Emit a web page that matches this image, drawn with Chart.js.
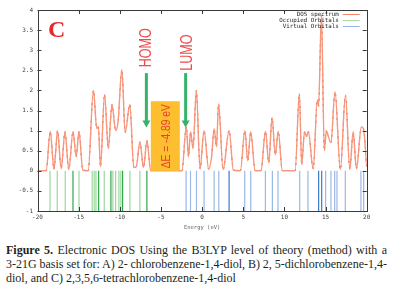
<!DOCTYPE html>
<html><head><meta charset="utf-8">
<script src="https://cdn.jsdelivr.net/npm/chart.js@4"></script>
<style>
html,body{margin:0;padding:0;background:#fff;width:395px;height:296px;overflow:hidden}
#wrap{position:absolute;left:0;top:0;width:395px;height:232px}
#cap{position:absolute;left:6px;top:243px;width:381px;font-family:"Liberation Serif",serif;font-size:12px;line-height:14px;color:#231f20}
#cap div{white-space:nowrap}
#cap .j{text-align:justify;text-align-last:justify;white-space:normal;word-spacing:-1.5px}
</style></head>
<body>
<div id="wrap"><canvas id="c" width="395" height="232"></canvas></div>
<div id="cap">
<div class="j"><b>Figure 5.</b> Electronic DOS Using the B3LYP level of theory (method) with a</div>
<div class="j">3-21G basis set for: A) 2- chlorobenzene-1,4-diol, B) 2, 5-dichlorobenzene-1,4-</div>
<div>diol, and C) 2,3,5,6-tetrachlorobenzene-1,4-diol</div>
</div>
<script>
const xTicks = [-20,-15,-10,-5,0,5,10,15,20];
const yTicks = [4,3.5,3,2.5,2,1.5,1,0.5,0,-0.5,-1];

const dosEnergy = [-20,-18.95,-18.45,-18.0,-17.8,-17.57,-17.12,-16.66,-16.2,-15.68,-15.3,-14.96,-14.5,-13.85,-13.2,-12.8,-12.6,-12.35,-11.85,-11.4,-10.95,-10.5,-10.2,-9.75,-9.35,-8.78,-8.3,-8.0,-7.56,-7.12,-6.7,-6.25,-2.45,-1.92,-1.65,-1.4,-1.1,-0.7,-0.25,0.24,0.8,1.15,1.46,1.75,2.0,2.55,3.28,3.8,4.65,5.2,5.55,5.9,6.45,7.15,7.7,8.1,8.5,8.9,9.25,9.75,11.3,11.82,12.1,12.45,12.7,12.9,13.5,14.0,14.15,14.5,14.85,15.1,15.35,15.65,16.15,16.8,17.42,17.95,18.35,18.75,19.35,19.6,20];
const dosValue  = [0,0,0.98,0.04,0.45,1.0,0.05,0.97,0.03,0.98,0.35,0.98,0.02,0,2.0,1.05,1.1,0.1,1.9,0.55,1.65,1.0,1.25,2.52,0.95,1.65,0.08,0.1,0.72,0.08,0.75,0,0,1.1,0.35,0.97,0.55,2.0,0.05,1.0,0.04,0.35,1.05,0.6,1.66,0.03,1.0,0.02,0,1.0,0.25,0.97,0,0,0.98,0.2,1.32,0.4,0.98,0,0,1.92,0.15,0.97,0.85,0.98,0.05,1.76,1.6,3.87,0.5,1.0,0.85,0.7,1.97,0.03,1.88,0.03,0.97,0.05,1.09,1.05,0.1];

const occupiedEnergy   = [-18.48,-17.60,-16.63,-14.96,-13.35,-13.11,-12.90,-11.89,-10.84,-10.51,-10.11,-9.87,-8.77,-7.56];
const occupiedDegenerate = [-15.69,-12.57,-11.08,-9.66,-6.71];
const virtualEnergy    = [-1.94,-1.41,-0.68,0.24,1.46,2.03,5.18,5.91,7.69,8.54,9.22,11.86,12.86,15.01,15.66,16.11,16.39,17.40,19.30,19.63];
const virtualDegenerate  = [3.28,14.16,14.53];

const homoEnergy = -6.71, lumoEnergy = -1.94;
const gapLabel = 'ΔE = -4.89 eV';

function sticks(arr){
  const out=[];
  arr.forEach(e=>{out.push({x:e,y:0},{x:e,y:-1},{x:e,y:null});});
  return out;
}

const annot = {
  id:'annot',
  afterDatasetsDraw(chart){
    const {ctx, chartArea:a, scales:{x,y}} = chart;
    ctx.save();
    const bx0 = x.getPixelForValue(homoEnergy+0.48), bx1 = x.getPixelForValue(lumoEnergy-0.77);
    const by0 = y.getPixelForValue(1.73), by1 = y.getPixelForValue(0);
    ctx.fillStyle='#fdbf2f';
    ctx.fillRect(bx0,by0,bx1-bx0,by1-by0);
    ctx.save();
    ctx.translate((bx0+bx1)/2+5, y.getPixelForValue(0.86));
    ctx.rotate(-Math.PI/2);
    ctx.scale(0.82,1);
    ctx.fillStyle='#e8432e';
    ctx.font='12.5px "Liberation Sans", Arial, sans-serif';
    ctx.textAlign='center'; ctx.textBaseline='alphabetic';
    ctx.fillText(gapLabel,0,0);
    ctx.restore();
    [[homoEnergy,'HOMO',3.06,5],[lumoEnergy,'LUMO',2.94,6]].forEach(([e,t,ly,dx])=>{
      const px = x.getPixelForValue(e)-0.5;
      const yTop = y.getPixelForValue(2.43), yTip = y.getPixelForValue(1.08);
      ctx.strokeStyle='#36b36b'; ctx.fillStyle='#36b36b'; ctx.lineWidth=3;
      ctx.beginPath(); ctx.moveTo(px,yTop); ctx.lineTo(px,yTip-6); ctx.stroke();
      ctx.beginPath(); ctx.moveTo(px-4,yTip-7); ctx.lineTo(px+4,yTip-7); ctx.lineTo(px,yTip); ctx.closePath(); ctx.fill();
      ctx.save();
      ctx.translate(px+dx, y.getPixelForValue(ly));
      ctx.rotate(-Math.PI/2);
      ctx.scale(0.76,1);
      ctx.fillStyle='#ee4a4d';
      ctx.font='16.5px "Liberation Sans", Arial, sans-serif';
      ctx.textAlign='center'; ctx.textBaseline='alphabetic';
      ctx.fillText(t,0,0);
      ctx.restore();
    });
    ctx.fillStyle='#e8292b';
    ctx.font='bold 24px "Liberation Serif", serif';
    ctx.textAlign='left'; ctx.textBaseline='alphabetic';
    ctx.fillText('C', a.left+10.5, a.top+27);
    ctx.font='5.8px "DejaVu Sans Mono", monospace';
    ctx.textAlign='right'; ctx.textBaseline='middle';
    const items = chart.data.datasets.filter(d=>d.legendOrder!==undefined).sort((p,q)=>p.legendOrder-q.legendOrder);
    items.forEach((d,i)=>{
      const ty = a.top+4.5+i*6;
      ctx.fillStyle='#222';
      ctx.fillText(d.label, a.right-28, ty);
      ctx.strokeStyle=d.legendColor; ctx.lineWidth=1;
      ctx.beginPath(); ctx.moveTo(a.right-24, ty); ctx.lineTo(a.right-7, ty); ctx.stroke();
    });
    ctx.restore();
  },
  afterDraw(chart){
    const {ctx, chartArea:a, scales:{x,y}} = chart;
    ctx.save();
    ctx.strokeStyle='#3a3a3a'; ctx.lineWidth=1;
    ctx.strokeRect(Math.round(a.left)+0.5, Math.round(a.top)+0.5, Math.round(a.right-a.left), Math.round(a.bottom-a.top));
    ctx.beginPath();
    xTicks.forEach(v=>{const p=Math.round(x.getPixelForValue(v))+0.5;
      ctx.moveTo(p,a.bottom); ctx.lineTo(p,a.bottom-4);
      ctx.moveTo(p,a.top); ctx.lineTo(p,a.top+4);});
    yTicks.forEach(v=>{const p=Math.round(y.getPixelForValue(v))+0.5;
      ctx.moveTo(a.left,p); ctx.lineTo(a.left+4,p);
      ctx.moveTo(a.right,p); ctx.lineTo(a.right-4,p);});
    ctx.stroke();
    ctx.restore();
  }
};

const tickFont = {family:'"DejaVu Sans Mono", monospace', size:6};
const dosPoints = dosEnergy.map((e,i)=>({x:e,y:dosValue[i]}));

new Chart(document.getElementById('c'), {
  type:'line',
  data:{
    datasets:[
      {label:'Occupied Orbitals', legendOrder:1, legendColor:'#a6dba6', data:sticks(occupiedEnergy), borderColor:'#9dd79d', borderWidth:1.2, pointRadius:0, spanGaps:false},
      {label:'Occupied (deg)', data:sticks(occupiedDegenerate), borderColor:'#2fa84b', borderWidth:1.2, pointRadius:0, spanGaps:false},
      {label:'Virtual Orbitals', legendOrder:2, legendColor:'#98b3e3', data:sticks(virtualEnergy), borderColor:'#9bb8e6', borderWidth:1.2, pointRadius:0, spanGaps:false},
      {label:'Virtual (deg)', data:sticks(virtualDegenerate), borderColor:'#3b7cc6', borderWidth:1.2, pointRadius:0, spanGaps:false},
      {label:'DOS spectrum', legendOrder:0, legendColor:'#f3866a', data:dosPoints, borderColor:'#f7977c', borderWidth:1.4, pointRadius:0, cubicInterpolationMode:'monotone'},
      {label:'DOS overlay', data:dosPoints, borderWidth:1, pointRadius:0, cubicInterpolationMode:'monotone', borderDash:[2,4],
        segment:{borderColor:c=>Math.abs(c.p1.parsed.y-c.p0.parsed.y)>0.4?'#e8231c':'rgba(0,0,0,0)'}}
    ]
  },
  options:{
    responsive:false, animation:false, devicePixelRatio:1,
    layout:{padding:{left:0,right:28.3,top:10,bottom:0}},
    plugins:{legend:{display:false}, tooltip:{enabled:false}},
    scales:{
      x:{type:'linear', min:-20, max:20,
        afterBuildTicks(s){s.ticks = xTicks.map(v=>({value:v}));},
        afterFit(s){s.height=21;},
        ticks:{font:tickFont, color:'#444', padding:3, maxRotation:0, autoSkip:false, callback:v=>String(v)},
        grid:{display:false, drawTicks:false}, border:{display:false},
        title:{display:true, text:'Energy (eV)', font:{family:'"DejaVu Sans Mono", monospace', size:5.5}, color:'#666', padding:{top:0,bottom:1}}
      },
      y:{type:'linear', min:-1, max:4,
        afterBuildTicks(s){s.ticks = yTicks.map(v=>({value:v}));},
        afterFit(s){s.width=37.5;},
        ticks:{font:tickFont, color:'#444', padding:4.5, autoSkip:false, callback:v=>String(v)},
        grid:{display:false, drawTicks:false}, border:{display:false}
      }
    }
  },
  plugins:[annot]
});
</script>
</body></html>
